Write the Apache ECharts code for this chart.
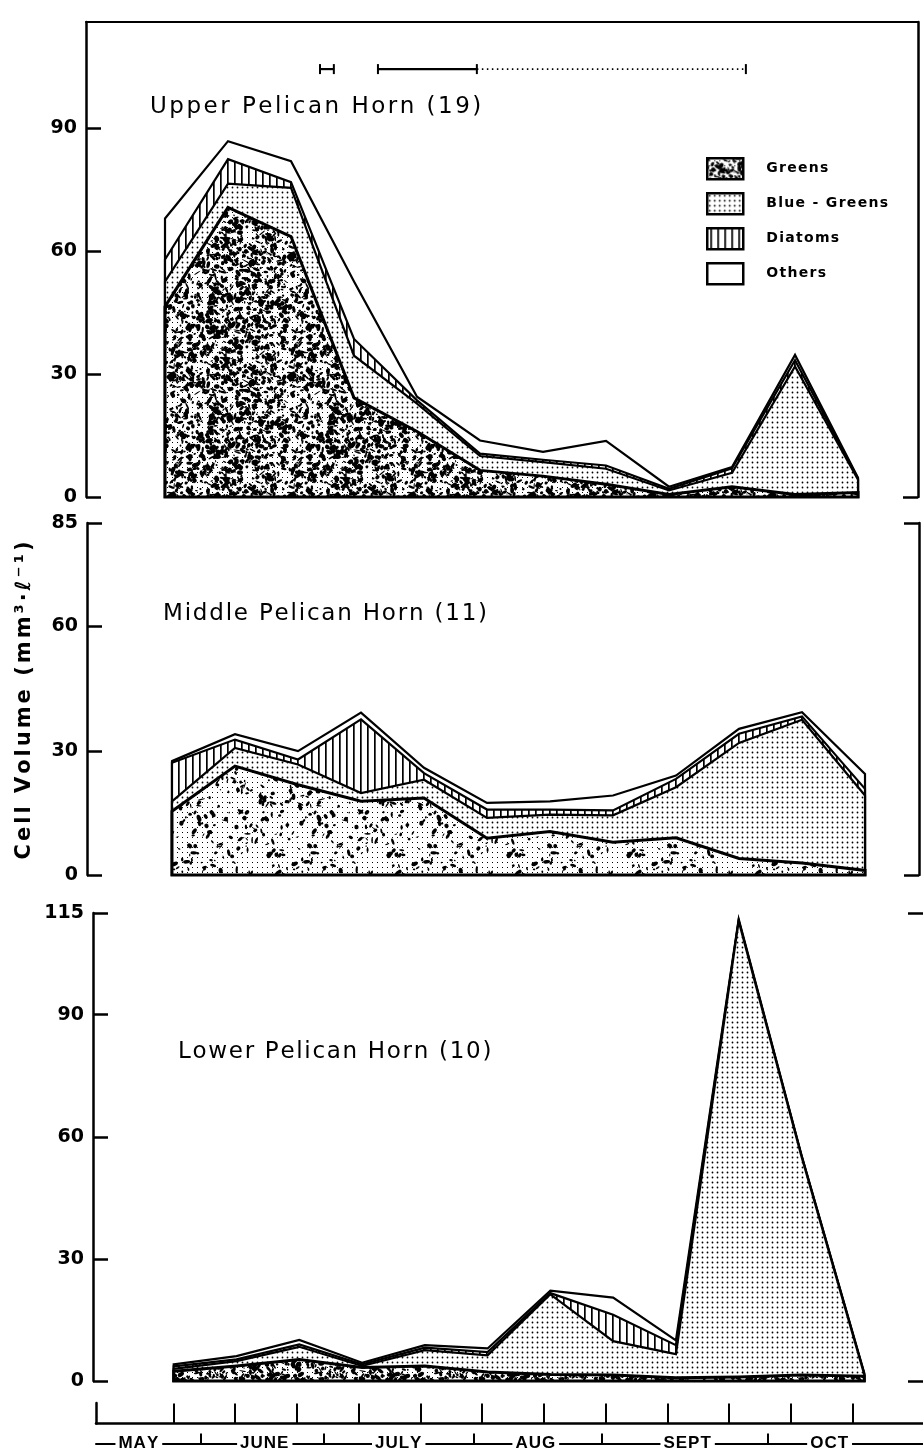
<!DOCTYPE html>
<html>
<head>
<meta charset="utf-8">
<script src="https://cdn.jsdelivr.net/npm/echarts@6/dist/echarts.min.js"></script>
<style>
  html, body { margin: 0; padding: 0; background: #fff; }
  #chart { width: 923px; height: 1453px; }
</style>
</head>
<body>
<div id="chart"></div>
<script>
// Sampling trips, in order through the season
const samples = [0, 1, 2, 3, 4, 5, 6, 7, 8, 9, 10, 11];

// Upper Pelican Horn (19): cell volume by group, mm3 per litre
const upperGreens     = [46.5, 70.7, 63.6, 24.2, 16.0, 6.5, 5.1, 3.1, 0.6, 2.5, 0.6, 1.1];
const upperBlueGreens = [ 6.1,  5.8, 11.9, 10.3,  6.8, 3.5, 3.4, 3.8, 1.0, 3.4, 31.3, 3.1];
const upperDiatoms    = [ 5.4,  6.0,  1.4,  4.1,  0.8, 0.6, 0.6, 0.8, 0.4, 1.1, 1.5, 0.3];
const upperOthers     = [10.0,  4.4,  5.1, 14.0,  0.9, 3.2, 1.9, 6.0, 0.5, 0.3, 1.3, 0.2];

// Middle Pelican Horn (11)
const middleGreens     = [15.4, 26.3, 21.8, 17.8, 18.6, 8.9, 10.5, 7.9, 9.0, 4.0, 2.9, 1.1];
const middleBlueGreens = [ 2.4,  4.4,  4.9,  2.0,  4.4, 4.9,  4.1, 6.5, 12.2, 27.9, 34.6, 18.1];
const middleDiatoms    = [ 9.3,  2.0,  1.2, 17.8,  1.6, 2.0,  1.2, 1.2, 2.0, 2.2, 0.8, 1.6];
const middleOthers     = [ 0.4,  1.3,  2.0,  1.6,  1.3, 1.6,  2.0, 3.6, 0.8, 1.2, 1.0, 3.6];

// Lower Pelican Horn (10)
const lowerGreens     = [2.4, 3.7, 5.3, 3.3, 3.7, 2.2, 1.6, 1.5, 0.8, 1.0, 1.5, 1.2];
const lowerBlueGreens = [0.6, 1.2, 3.1, 0.4, 3.9, 4.1, 19.7, 8.3, 5.8, 112.0, 53.7, 0.4];
const lowerDiatoms    = [0.6, 0.4, 0.6, 0.4, 0.6, 0.8, 0.3, 6.5, 2.2, 0.2, 0.2, 0.2];
const lowerOthers     = [0.5, 0.8, 1.1, 0.4, 0.6, 0.9, 0.6, 4.2, 1.2, 0.3, 0.1, 0.2];

// Tick labels on the three volume axes
const upperTicks  = [0, 30, 60, 90];
const middleTicks = [0, 30, 60, 85];
const lowerTicks  = [0, 30, 60, 90, 115];

// Month band under the time axis (in sampling-trip units)
const monthNames  = ['MAY', 'JUNE', 'JULY', 'AUG', 'SEPT', 'OCT'];
const monthMid    = [-0.56, 1.48, 3.65, 5.87, 8.33, 10.63];
const monthStarts = [0.44, 2.44, 4.86, 6.94, 9.63];

// Periods marked above the upper panel (trip units) and their height
const solidPeriods  = [[2.46, 2.68], [3.38, 4.95]];
const dottedPeriods = [[4.95, 9.22]];
const periodLevel = 104.5;

const groupNames = ['Greens', 'Blue - Greens', 'Diatoms', 'Others'];

// Rich-text helper: each character as its own token so it can be tracked out
function spaced(str) {
  return str.split('').map(ch => '{c|' + ch + '}').join('');
}

// ---------- fill textures ----------
function makeCanvas(w, h) {
  const c = document.createElement('canvas');
  c.width = w; c.height = h;
  const g = c.getContext('2d');
  g.fillStyle = '#fff';
  g.fillRect(0, 0, w, h);
  return [c, g];
}
function dotFill() {
  const [c, g] = makeCanvas(5, 5);
  g.fillStyle = '#000';
  g.beginPath();
  g.arc(2.5, 2.5, 0.9, 0, Math.PI * 2);
  g.fill();
  return { image: c, repeat: 'repeat' };
}
function hatchFill() {
  const [c, g] = makeCanvas(7, 7);
  g.fillStyle = '#000';
  g.fillRect(3, 0, 1.7, 7);
  return { image: c, repeat: 'repeat' };
}
function grain(n) {
  const s = Math.sin(n * 127.1 + 311.7) * 43758.5453;
  return s - Math.floor(s);
}
function mottleFill(count, seed) {
  const W = 120, H = 120;
  const [c, g] = makeCanvas(W, H);
  g.fillStyle = '#000';
  for (let y = 2; y < H; y += 5) {
    for (let x = 2; x < W; x += 5) {
      g.fillRect(x, y, 1, 1);
    }
  }
  for (let k = 0; k < count; k++) {
    const cx = grain(seed + k * 3.17) * W;
    const cy = grain(seed + k * 7.71) * H;
    const rx = 0.7 + grain(seed + k * 1.37) * 3.0;
    const ry = 0.5 + grain(seed + k * 5.93) * 1.8;
    const rot = grain(seed + k * 9.21) * Math.PI;
    for (const dx of [-W, 0, W]) {
      for (const dy of [-H, 0, H]) {
        g.beginPath();
        g.ellipse(cx + dx, cy + dy, rx, ry, rot, 0, Math.PI * 2);
        g.fill();
      }
    }
  }
  return { image: c, repeat: 'repeat' };
}

const fills = {
  dots: dotFill(),
  hatch: hatchFill(),
  others: '#ffffff'
};
const greensFill = [mottleFill(900, 11), mottleFill(230, 37), mottleFill(950, 73)];

// ---------- stacking ----------
function cumulative(layers) {
  const out = [];
  let run = samples.map(() => 0);
  for (const layer of layers) {
    run = run.map((v, i) => +(v + layer[i]).toFixed(2));
    out.push(run);
  }
  return out; // [greensTop, blueGreensTop, diatomsTop, othersTop]
}

const panels = [
  cumulative([upperGreens, upperBlueGreens, upperDiatoms, upperOthers]),
  cumulative([middleGreens, middleBlueGreens, middleDiatoms, middleOthers]),
  cumulative([lowerGreens, lowerBlueGreens, lowerDiatoms, lowerOthers])
];

// Closed outline of one stacked layer, drawn from the baseline up to its top
function layerSeries(name, panel, tops, fill, lineWidth, z) {
  return {
    type: 'custom',
    name: name,
    xAxisIndex: [0, 2, 3][panel],
    yAxisIndex: [0, 2, 4][panel],
    data: samples.map((s, i) => [s, tops[i]]),
    itemStyle: { color: fill, borderColor: '#000', borderWidth: 2 },
    z: z,
    silent: true,
    animation: false,
    renderItem: function (params, api) {
      if (params.dataIndexInside !== 0) return null;
      const n = params.dataInsideLength;
      const pts = [];
      for (let j = 0; j < n; j++) {
        pts.push(api.coord([api.value(0, j), api.value(1, j)]));
      }
      pts.push(api.coord([api.value(0, n - 1), 0]));
      pts.push(api.coord([api.value(0, 0), 0]));
      return {
        type: 'polygon',
        shape: { points: pts },
        style: { fill: fill, stroke: '#000', lineWidth: lineWidth, lineJoin: 'miter' }
      };
    }
  };
}

const series = [];
panels.forEach((tops, p) => {
  series.push(layerSeries('Others', p, tops[3], fills.others, 2.2, 2));
  series.push(layerSeries('Diatoms', p, tops[2], fills.hatch, 2.2, 3));
  series.push(layerSeries('Blue - Greens', p, tops[1], fills.dots, 2.2, 4));
  series.push(layerSeries('Greens', p, tops[0], greensFill[p], 3, 5));
});

// Period bars above the upper panel
function periodSeries(periods, dashed) {
  return {
    type: 'custom',
    xAxisIndex: 0,
    yAxisIndex: 0,
    data: periods.map(d => [d[0], d[1], periodLevel]),
    silent: true,
    animation: false,
    z: 6,
    renderItem: function (params, api) {
      const a = api.coord([api.value(0), api.value(2)]);
      const b = api.coord([api.value(1), api.value(2)]);
      const st = { stroke: '#000', lineWidth: dashed ? 1.6 : 2.2 };
      if (dashed) st.lineDash = [1.5, 3.5];
      const capStyle = { stroke: '#000', lineWidth: 2 };
      const children = [
        { type: 'line', shape: { x1: a[0], y1: a[1], x2: b[0], y2: b[1] }, style: st },
        { type: 'line', shape: { x1: b[0], y1: b[1] - 5, x2: b[0], y2: b[1] + 5 }, style: capStyle }
      ];
      if (!dashed) {
        children.push({ type: 'line', shape: { x1: a[0], y1: a[1] - 5, x2: a[0], y2: a[1] + 5 }, style: capStyle });
      }
      return { type: 'group', children: children };
    }
  };
}
series.push(periodSeries(solidPeriods, false));
series.push(periodSeries(dottedPeriods, true));

// ---------- axes ----------
const tickFont = { fontFamily: 'DejaVu Sans', fontWeight: 'bold', fontSize: 19, color: '#000' };
const axisLineStyle = { color: '#000', width: 2.5 };

function hiddenX(grid, min, max, position, showLine) {
  return {
    type: 'value', gridIndex: grid, min: min, max: max, position: position,
    axisLine: { show: !!showLine, onZero: false, lineStyle: { color: '#000', width: 2 } },
    axisTick: { show: false }, axisLabel: { show: false }, splitLine: { show: false }
  };
}
function leftY(grid, max, ticks, extra) {
  return Object.assign({
    type: 'value', gridIndex: grid, min: 0, max: max, position: 'left',
    axisLine: { show: true, onZero: false, lineStyle: axisLineStyle },
    axisTick: { show: true, inside: true, length: 15, customValues: ticks, lineStyle: { color: '#000', width: 2.5 } },
    axisLabel: { show: true, customValues: ticks, margin: 9, ...tickFont },
    splitLine: { show: false }
  }, extra || {});
}
function rightY(grid, max, ticks, showLine) {
  return {
    type: 'value', gridIndex: grid, min: 0, max: max, position: 'right',
    axisLine: { show: showLine, onZero: false, lineStyle: axisLineStyle },
    axisTick: { show: true, inside: true, length: 15, customValues: ticks, lineStyle: { color: '#000', width: 2.5 } },
    axisLabel: { show: false },
    splitLine: { show: false }
  };
}

function panelTitle(text, left, top, track) {
  return {
    text: spaced(text),
    left: left,
    top: top,
    padding: 0,
    textStyle: {
      fontFamily: 'DejaVu Sans', fontWeight: 'normal', fontSize: 23, color: '#000',
      rich: { c: { fontFamily: 'DejaVu Sans', fontSize: 23, color: '#000', padding: [0, track, 0, 0] } }
    }
  };
}

const option = {
  backgroundColor: '#fff',
  animation: false,
  title: [
    panelTitle('Upper Pelican Horn (19)', 150, 96, 2.5),
    panelTitle('Middle Pelican Horn (11)', 163, 603, 1.8),
    panelTitle('Lower Pelican Horn (10)', 178, 1041, 1.7)
  ],
  legend: {
    data: groupNames,
    orient: 'vertical',
    left: 706,
    top: 157,
    padding: 0,
    itemWidth: 36,
    itemHeight: 21,
    itemGap: 11.5,
    icon: 'rect',
    itemStyle: { borderColor: '#000', borderWidth: 2.5 },
    formatter: name => spaced(name),
    textStyle: {
      fontFamily: 'DejaVu Sans', fontWeight: 'bold', fontSize: 14, color: '#000',
      rich: { c: { fontFamily: 'DejaVu Sans', fontWeight: 'bold', fontSize: 14, color: '#000', padding: [0, 1.3, 0, 0] } },
      padding: [0, 0, 0, 18]
    },
    selectedMode: false
  },
  grid: [
    { left: 86, top: 22, width: 832, height: 475 },
    { left: 87, top: 523, width: 832, height: 352 },
    { left: 93, top: 913, width: 833, height: 468 },
    { left: 96, top: 1403, width: 844, height: 22 }
  ],
  xAxis: [
    hiddenX(0, -1.254, 11.952, 'bottom', false),
    hiddenX(0, -1.254, 11.952, 'top', true),
    hiddenX(1, -1.349, 11.857, 'bottom', false),
    hiddenX(2, -1.286, 11.936, 'bottom', false),
    {
      type: 'value', gridIndex: 3, min: -1.254, max: 12.143, position: 'bottom',
      axisLine: { show: true, onZero: false, lineStyle: axisLineStyle },
      axisTick: { show: true, inside: true, length: 20, customValues: samples, lineStyle: { color: '#000', width: 2 } },
      axisLabel: { show: false },
      splitLine: { show: false }
    },
    {
      type: 'value', gridIndex: 3, min: -1.254, max: 12.143, position: 'bottom', offset: 20,
      axisLine: { show: true, onZero: false, lineStyle: { color: '#000', width: 2 } },
      axisTick: { show: true, inside: true, length: 10, customValues: monthStarts, lineStyle: { color: '#000', width: 2 } },
      axisLabel: {
        show: true,
        customValues: monthMid,
        margin: 0,
        verticalAlign: 'middle',
        backgroundColor: '#fff',
        padding: [1, 3],
        fontFamily: 'Liberation Sans',
        fontWeight: 'bold',
        fontSize: 17,
        color: '#000',
        rich: { c: { fontFamily: 'Liberation Sans', fontWeight: 'bold', fontSize: 17, color: '#000', padding: [0, 1, 0, 0] } },
        formatter: function (v) {
          let best = 0;
          monthMid.forEach((m, i) => { if (Math.abs(m - v) < Math.abs(monthMid[best] - v)) best = i; });
          return spaced(monthNames[best]);
        }
      },
      splitLine: { show: false }
    }
  ],
  yAxis: [
    leftY(0, 116, upperTicks),
    rightY(0, 116, [0], true),
    leftY(1, 85, middleTicks, {
      name: spaced('Cell Volume (mm³·ℓ⁻¹)'),
      nameLocation: 'middle',
      nameGap: 52,
      nameTextStyle: {
        fontFamily: 'DejaVu Sans', fontWeight: 'bold', fontSize: 21, color: '#000',
        rich: { c: { fontFamily: 'DejaVu Sans', fontWeight: 'bold', fontSize: 21, color: '#000', padding: [0, 3, 0, 0] } }
      }
    }),
    rightY(1, 85, [0, 85], true),
    leftY(2, 115, lowerTicks),
    rightY(2, 115, [0, 115], false),
    {
      type: 'value', gridIndex: 3, min: 0, max: 1, position: 'left',
      axisLine: { show: true, onZero: false, lineStyle: axisLineStyle },
      axisTick: { show: false }, axisLabel: { show: false }, splitLine: { show: false }
    }
  ],
  series: series
};

const chart = echarts.init(document.getElementById('chart'), null, { renderer: 'canvas' });
chart.setOption(option);
</script>
</body>
</html>
